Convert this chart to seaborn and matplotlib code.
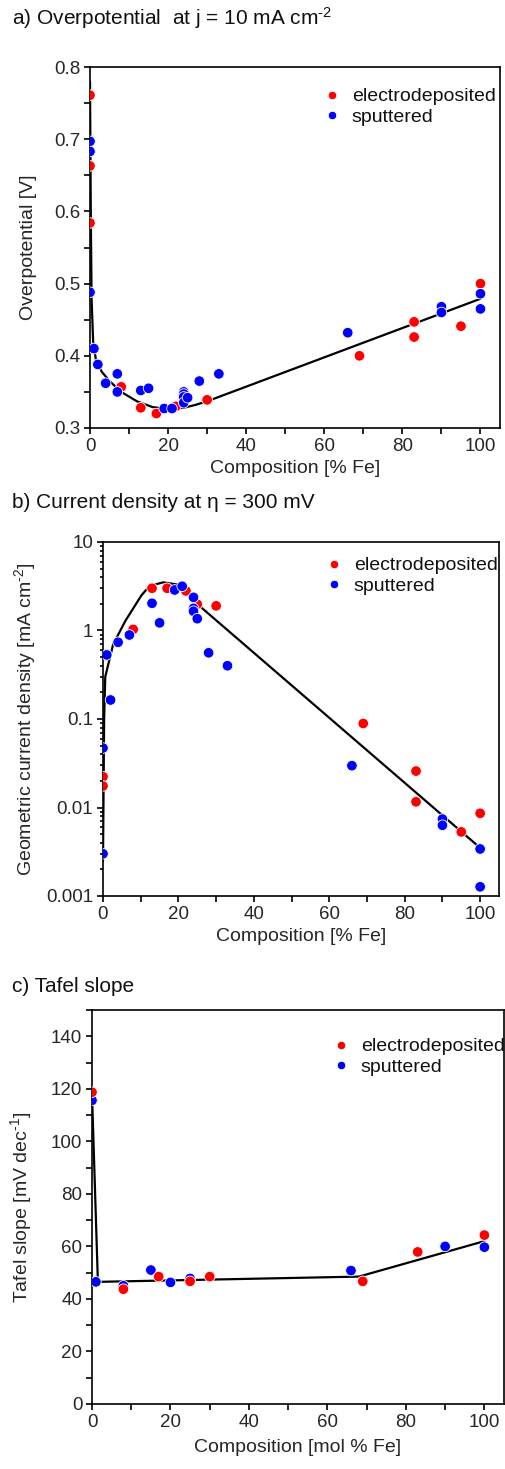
import matplotlib
matplotlib.use("Agg")
import matplotlib.pyplot as plt
import matplotlib.ticker as mticker
import numpy as np
import pandas as pd
import seaborn as sns

# ---------------- data ----------------
# Panel a: overpotential at j = 10 mA cm-2 [V]
a_ed_x = [0, 0, 0, 8, 13, 17, 22, 30, 69, 83, 83, 95, 100]
a_ed_y = [0.761, 0.663, 0.584, 0.357, 0.328, 0.320, 0.330, 0.339, 0.400, 0.447, 0.426, 0.441, 0.500]
a_sp_x = [0, 0, 0, 1, 2, 4, 7, 7, 13, 15, 19, 21, 24, 24, 24, 24, 25, 28, 33, 66, 90, 90, 100, 100]
a_sp_y = [0.697, 0.683, 0.488, 0.410, 0.388, 0.362, 0.375, 0.350, 0.352, 0.355, 0.327, 0.327,
          0.350, 0.347, 0.343, 0.335, 0.342, 0.365, 0.375, 0.432, 0.468, 0.460, 0.486, 0.465]
a_fit_x = [0, 0.2, 0.4, 0.8, 1.5, 3, 5, 8, 12, 16, 20, 24, 27, 30, 100]
a_fit_y = [0.78, 0.60, 0.48, 0.42, 0.395, 0.378, 0.365, 0.350, 0.337, 0.329, 0.326, 0.328, 0.332, 0.337, 0.479]

# Panel b: current density at eta = 300 mV [mA cm-2]
b_ed_x = [0, 0, 8, 13, 17, 22, 25, 30, 69, 83, 83, 95, 100]
b_ed_y = [0.0223, 0.0175, 1.03, 3.0, 3.0, 2.8, 1.98, 1.9, 0.089, 0.0258, 0.0116, 0.0053, 0.0086]
b_sp_x = [0, 0, 1, 2, 4, 7, 13, 15, 19, 21, 24, 24, 24, 25, 28, 33, 66, 90, 90, 100, 100]
b_sp_y = [0.047, 0.003, 0.53, 0.164, 0.736, 0.89, 2.03, 1.22, 2.87, 3.16, 2.37, 1.78, 1.65, 1.36,
          0.56, 0.40, 0.0297, 0.0074, 0.0063, 0.0034, 0.00127]
b_fit_x = [0, 0.3, 0.6, 2.7, 6, 10.2, 12.4, 16, 20.4, 24, 25.8, 100]
b_fit_y = [0.0025, 0.1, 0.3, 0.7, 1.3, 2.5, 3.2, 3.5, 3.27, 2.2, 1.86, 0.0035]

# Panel c: Tafel slope [mV dec-1]
c_sp_x = [0, 1, 8, 15, 20, 25, 66, 90, 100]
c_sp_y = [115.6, 46.5, 45.0, 51.0, 46.3, 47.8, 50.8, 60.0, 59.7]
c_ed_x = [0, 8, 17, 25, 30, 69, 83, 100]
c_ed_y = [118.7, 43.7, 48.5, 46.7, 48.5, 46.7, 57.9, 64.3]
c_fit_x = [0, 1.5, 68, 100]
c_fit_y = [118, 46.5, 48.5, 62]

ED, SP = "electrodeposited", "sputtered"
palette = {ED: "#ff0000", SP: "#0000ff"}

def frame(x1, y1, n1, x2, y2, n2):
    return pd.DataFrame({"x": list(x1) + list(x2), "y": list(y1) + list(y2),
                         "kind": [n1] * len(x1) + [n2] * len(x2)})

df_a = frame(a_ed_x, a_ed_y, ED, a_sp_x, a_sp_y, SP)
df_b = frame(b_ed_x, b_ed_y, ED, b_sp_x, b_sp_y, SP)
df_c = frame(c_sp_x, c_sp_y, SP, c_ed_x, c_ed_y, ED)

# ---------------- style ----------------
sns.set_theme(style="ticks")
plt.rcParams["font.family"] = ["Liberation Sans", "DejaVu Sans"]
plt.rcParams["mathtext.fontset"] = "custom"
plt.rcParams["mathtext.rm"] = "Liberation Sans"
plt.rcParams["mathtext.default"] = "regular"
plt.rcParams["axes.linewidth"] = 1.2
plt.rcParams["axes.edgecolor"] = "black"
plt.rcParams["text.color"] = "#111111"

W, H = 505, 1469
fig = plt.figure(figsize=(W / 100, H / 100), dpi=100)

def ax_px(l, r, t, b):
    return fig.add_axes([l / W, 1 - b / H, (r - l) / W, (b - t) / H])

axa = ax_px(90, 500, 67, 428)
axb = ax_px(103, 499, 542, 896)
axc = ax_px(92, 504, 1010, 1404)

def draw(ax, df, fx, fy):
    sns.lineplot(x=fx, y=fy, ax=ax, color="black", lw=1.6, sort=False, estimator=None, legend=False)
    sns.scatterplot(data=df, x="x", y="y", hue="kind", hue_order=[ED, SP], palette=palette,
                    s=58, edgecolor="white", linewidth=0.6, ax=ax, zorder=3)
    ax.set_xlim(0, 105)
    ax.xaxis.set_major_locator(mticker.FixedLocator([0, 20, 40, 60, 80, 100]))
    ax.xaxis.set_minor_locator(mticker.FixedLocator([10, 30, 50, 70, 90]))
    ax.tick_params(which="both", direction="out", length=4, width=1.2, labelsize=13.5, pad=3, color="black")
    for s in ax.spines.values():
        s.set_visible(True)
        s.set_color("black")
    leg = ax.legend(loc="upper left", frameon=False, fontsize=14, handletextpad=0.0,
                    borderaxespad=0, labelspacing=0.15, markerscale=0.8)
    return leg

draw(axa, df_a, a_fit_x, a_fit_y)
axa.set_ylim(0.3, 0.8)
axa.yaxis.set_major_locator(mticker.MultipleLocator(0.1))
axa.yaxis.set_minor_locator(mticker.MultipleLocator(0.05))
axa.yaxis.set_major_formatter(mticker.FormatStrFormatter("%.1f"))
axa.set_xlabel("Composition [% Fe]", fontsize=14, labelpad=4)
axa.set_ylabel("Overpotential [V]", fontsize=14, labelpad=12)
axa.legend_.set_bbox_to_anchor((305 / W, 1 - 80 / H), transform=fig.transFigure)

draw(axb, df_b, b_fit_x, b_fit_y)
axb.set_yscale("log")
axb.set_ylim(0.001, 10)
axb.yaxis.set_major_locator(mticker.FixedLocator([0.001, 0.01, 0.1, 1, 10]))
axb.yaxis.set_major_formatter(mticker.FixedFormatter(["0.001", "0.01", "0.1", "1", "10"]))
axb.yaxis.set_minor_locator(mticker.LogLocator(base=10, subs=np.arange(2, 10), numticks=20))
axb.yaxis.set_minor_formatter(mticker.NullFormatter())
axb.tick_params(axis="y", which="minor", length=2.5)
axb.set_xlabel("Composition [% Fe]", fontsize=14, labelpad=4)
axb.set_ylabel("Geometric current density [mA cm$^{\\text{-}2}$]", fontsize=14, labelpad=6)
axb.legend_.set_bbox_to_anchor((307 / W, 1 - 549 / H), transform=fig.transFigure)

draw(axc, df_c, c_fit_x, c_fit_y)
axc.set_ylim(0, 150)
axc.yaxis.set_major_locator(mticker.FixedLocator([0, 20, 40, 60, 80, 100, 120, 140]))
axc.yaxis.set_minor_locator(mticker.FixedLocator([10, 30, 50, 70, 90, 110, 130, 150]))
axc.set_xlabel("Composition [mol % Fe]", fontsize=14, labelpad=6)
axc.set_ylabel("Tafel slope [mV dec$^{\\text{-}1}$]", fontsize=14, labelpad=12)
axc.legend_.set_bbox_to_anchor((314 / W, 1 - 1030 / H), transform=fig.transFigure)

fig.text(12 / W, 1 - 18 / H, "a) Overpotential  at j = 10 mA cm$^{\\text{-}2}$", fontsize=15, va="center", ha="left")
fig.text(12 / W, 1 - 502 / H, "b) Current density at η = 300 mV", fontsize=15, va="center", ha="left")
fig.text(12 / W, 1 - 986 / H, "c) Tafel slope", fontsize=15, va="center", ha="left")

fig.savefig("out.png", dpi=100, facecolor="white")
